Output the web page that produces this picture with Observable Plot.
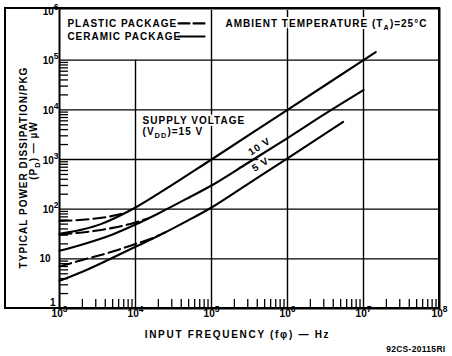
<!DOCTYPE html>
<html>
<head>
<meta charset="utf-8">
<script src="https://cdn.jsdelivr.net/npm/d3@7"></script>
<script src="https://cdn.jsdelivr.net/npm/@observablehq/plot@0.6"></script>
<style>
  html, body { margin: 0; padding: 0; background: white; }
  svg text { letter-spacing: 1px; }
  g[aria-description="ticklabels"] text { letter-spacing: 0; }
  g[aria-description="caption"] text { letter-spacing: 0.3px; }
  g[aria-description="xtitle"] text { letter-spacing: 1.7px; }
</style>
</head>
<body>
<div id="chart"></div>
<script>
// ---- data ----
const freq15 = [1e3, 2e3, 3.5e3, 6e3, 1e4, 2e4, 1e5, 1e6, 1e7, 1.45e7];
const ceramic15 = [32, 39, 50, 72, 108, 205, 1000, 1e4, 1e5, 1.45e5];
const freq15p = [1e3, 2.5e3, 4.5e3, 7e3];
const plastic15 = [58, 63, 71, 82];

const freq10 = [1e3, 2e3, 5e3, 1e4, 2e4, 5e4, 1e5, 3e5, 1e6, 3e6, 1e7];
const ceramic10 = [14.5, 19.5, 31, 49, 82, 170, 300, 850, 2700, 8000, 2.5e4];
const freq10p = [1e3, 2e3, 5e3, 1e4, 1.5e4];
const plastic10 = [31, 34, 42, 54, 66];

const freq5 = [1e3, 2e3, 5e3, 1e4, 2e4, 5e4, 1e5, 3e5, 1e6, 5.4e6];
const ceramic5 = [3.6, 5.5, 10.5, 17.5, 29, 60, 108, 320, 1050, 5700];
const freq5p = [1e3, 2e3, 5e3, 1e4, 1.6e4, 2.5e4];
const plastic5 = [7, 9.5, 14, 20, 25.5, 34.5];

const xTickValues = [1e3, 1e4, 1e5, 1e6, 1e7, 1e8];
const xTickLabels = ["10^{3}", "10^{4}", "10^{5}", "10^{6}", "10^{7}", "10^{8}"];
const yTickValues = [1e2, 1e3, 1e4, 1e5, 1e6];
const yTickLabels = ["10^{2}", "10^{3}", "10^{4}", "10^{5}", "10^{6}"];
const yTen = [10], yTenLabel = ["10"];
const yOne = [1], yOneLabel = ["1"];

const gridY = [10, 1e2, 1e3, 1e4, 1e5];
const gridXFull = [1e5, 1e6, 1e7];
const gridXShort = [1e4];
const minorX = [];
for (let e = 3; e < 8; e++) for (let m = 2; m <= 9; m++) minorX.push(m * 10 ** e);
const minorY = [];
for (let e = 0; e < 5; e++) for (let m = 2; m <= 9; m++) minorY.push(m * 10 ** e);

const legendNames = ["PLASTIC PACKAGE", "CERAMIC PACKAGE"];
const legendTextX = [1.27e3, 1.27e3];
const legendY = [5.5e5, 3.0e5];
const legendSampleX = [3.68e4, 8.1e4];

const notes = ["AMBIENT TEMPERATURE (T_{A})=25°C", "SUPPLY VOLTAGE", "(V_{DD})=15 V"];
const notesX = [1.53e5, 1.24e4, 1.24e4];
const notesY = [5.5e5, 6.1e3, 3.66e3];

const curveLabels = ["10 V", "5 V"];
const curveLabelX = [4.28e5, 4.42e5];
const curveLabelY = [1.83e3, 795];

const xTitle = "INPUT FREQUENCY (fφ) — Hz";
const yTitle1 = "TYPICAL POWER DISSIPATION/PKG";
const yTitle2 = "(P_{D}) — µW";
const caption = "92CS-20115RI";

// ---- layout ----
const W = 452, H = 356;
const ML = 59, MR = 13, MT = 10, MB = 48;
const OUTER_LEFT = 5;
const plotW = W - ML - MR, plotH = H - MT - MB;

const zip = (xs, ys) => xs.map((x, i) => ({x, y: ys[i]}));
const lineOpts = {x: "x", y: "y", stroke: "black", strokeWidth: 2.1, curve: "monotone-x"};
const dashed = {...lineOpts, strokeDasharray: "12,5"};
const halo = {stroke: "white", strokeWidth: 4, paintOrder: "stroke", fill: "black"};

const chart = Plot.plot({
  width: W, height: H,
  marginLeft: ML, marginRight: MR, marginTop: MT, marginBottom: MB,
  x: {type: "log", domain: [1e3, 1e8], axis: null},
  y: {type: "log", domain: [1, 1e6], axis: null},
  style: {fontFamily: "'Liberation Sans', Arial, sans-serif", fontSize: "10px", fontWeight: "bold", background: "white", color: "black"},
  marks: [
    Plot.ruleY(gridY, {stroke: "black", strokeWidth: 1.4}),
    Plot.ruleX(gridXFull, {stroke: "black", strokeWidth: 1.4}),
    Plot.ruleX(gridXShort, {y1: 1, y2: 1e5, stroke: "black", strokeWidth: 1.4}),
    Plot.tickX(minorX, {insetTop: plotH - 9, stroke: "black", strokeWidth: 1.3}),
    Plot.tickY(minorY, {insetRight: plotW - 9, stroke: "black", strokeWidth: 1.3}),
    // annotations
    Plot.text(legendNames, {x: (d, i) => legendTextX[i], y: (d, i) => legendY[i], text: d => d, textAnchor: "start", ...halo}),
    Plot.text(notes, {x: (d, i) => notesX[i], y: (d, i) => notesY[i], text: d => d, textAnchor: "start", ...halo}),
    Plot.text(curveLabels, {x: (d, i) => curveLabelX[i], y: (d, i) => curveLabelY[i], text: d => d, rotate: -33, ...halo}),
    // legend samples
    Plot.line(zip(legendSampleX, [legendY[0], legendY[0]]), {...lineOpts, strokeDasharray: "11,4", curve: "linear"}),
    Plot.line(zip(legendSampleX, [legendY[1], legendY[1]]), {...lineOpts, curve: "linear"}),
    // curves
    Plot.line(zip(freq15, ceramic15), lineOpts),
    Plot.line(zip(freq10, ceramic10), lineOpts),
    Plot.line(zip(freq5, ceramic5), lineOpts),
    Plot.line(zip(freq15p, plastic15), dashed),
    Plot.line(zip(freq10p, plastic10), dashed),
    Plot.line(zip(freq5p, plastic5), dashed),
    Plot.frame({stroke: "black", strokeWidth: 2, insetTop: -2}),
    // tick labels
    Plot.text(xTickValues, {x: d => d, text: (d, i) => xTickLabels[i], frameAnchor: "bottom", textAnchor: "middle", dy: 8, ariaDescription: "ticklabels"}),
    Plot.text(yTickValues, {y: d => d, text: (d, i) => yTickLabels[i], frameAnchor: "left", textAnchor: "end", dx: -1, dy: 1, ariaDescription: "ticklabels"}),
    Plot.text(yTen, {y: d => d, text: (d, i) => yTenLabel[i], frameAnchor: "left", textAnchor: "end", dx: -9, ariaDescription: "ticklabels"}),
    Plot.text(yOne, {y: d => d, text: (d, i) => yOneLabel[i], frameAnchor: "left", textAnchor: "end", dx: -4, dy: -6, ariaDescription: "ticklabels"}),
    // titles
    Plot.text([xTitle], {text: d => d, frameAnchor: "bottom", textAnchor: "middle", dy: 29, dx: -12, ariaDescription: "xtitle"}),
    Plot.text([yTitle1], {text: d => d, frameAnchor: "left", textAnchor: "middle", rotate: -90, dx: -36, dy: 8}),
    Plot.text([yTitle2], {text: d => d, frameAnchor: "left", textAnchor: "middle", rotate: -90, dx: -26, dy: -9}),
    Plot.text([caption], {text: d => d, frameAnchor: "bottom-right", textAnchor: "end", dx: 6, dy: 43, fontSize: 8.5, ariaDescription: "caption"})
  ]
});

// rich text: ^{..} superscript, _{..} subscript
d3.select(chart).selectAll("text").each(function () {
  const t = this.textContent;
  if (!/[\^_]\{/.test(t)) return;
  const parts = t.split(/([\^_]\{[^}]*\})/).filter(p => p);
  this.textContent = "";
  let shift = 0;
  for (const p of parts) {
    const m = p.match(/^([\^_])\{([^}]*)\}$/);
    const ts = document.createElementNS("http://www.w3.org/2000/svg", "tspan");
    if (m) {
      const sup = m[1] === "^";
      const d = sup ? -5 : 3;
      ts.setAttribute("dy", d - shift); shift = d;
      ts.setAttribute("font-size", sup ? "8.5" : "7.5");
      ts.textContent = m[2];
    } else {
      if (shift) { ts.setAttribute("dy", -shift); shift = 0; }
      ts.textContent = p;
    }
    this.appendChild(ts);
  }
});

// outer box enclosing the y-axis title area
d3.select(chart).append("rect")
  .attr("x", OUTER_LEFT).attr("y", MT - 2)
  .attr("width", W - MR - OUTER_LEFT).attr("height", plotH + 2)
  .attr("fill", "none").attr("stroke", "black").attr("stroke-width", 2);

document.getElementById("chart").appendChild(chart);
</script>
</body>
</html>
